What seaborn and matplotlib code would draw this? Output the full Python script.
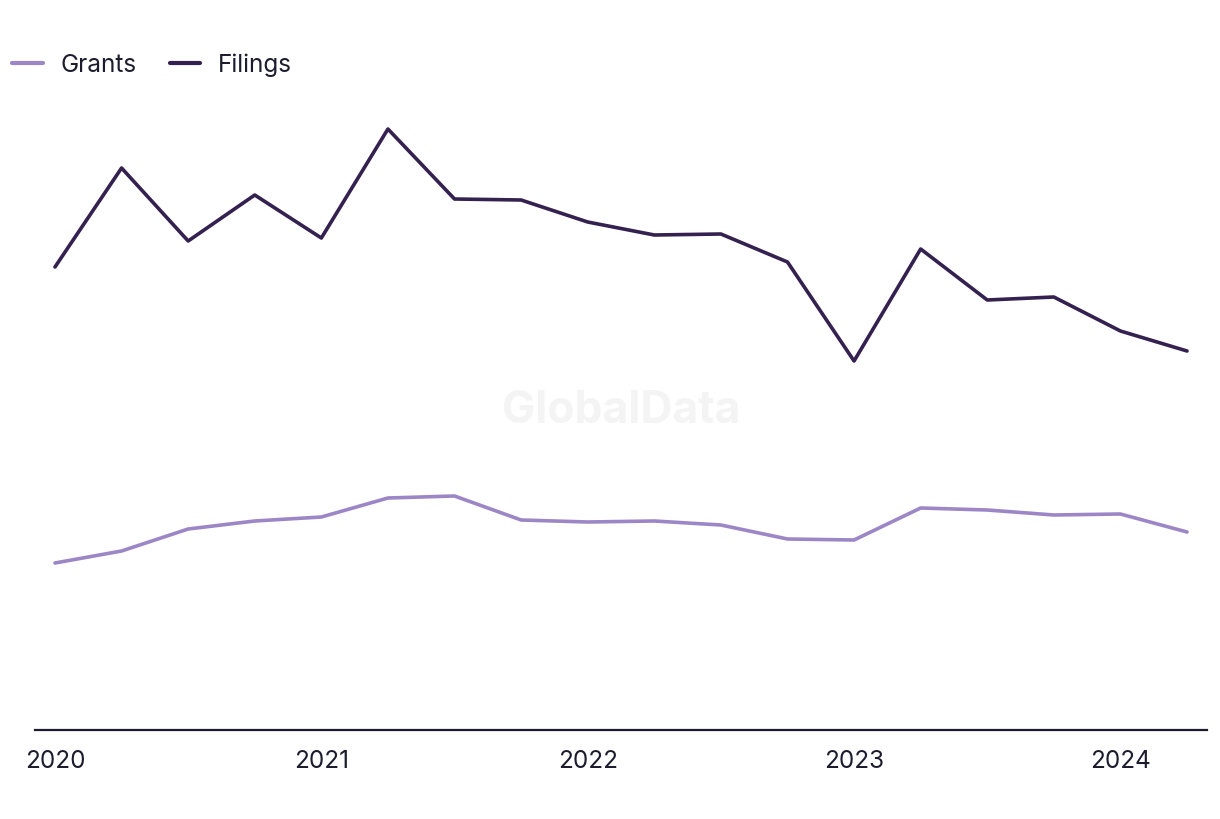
import matplotlib
matplotlib.use("Agg")
import matplotlib.pyplot as plt
import seaborn as sns
import pandas as pd
import numpy as np

quarters = ["Q1 2020", "Q2 2020", "Q3 2020", "Q4 2020",
            "Q1 2021", "Q2 2021", "Q3 2021", "Q4 2021",
            "Q1 2022", "Q2 2022", "Q3 2022", "Q4 2022",
            "Q1 2023", "Q2 2023", "Q3 2023", "Q4 2023",
            "Q1 2024", "Q2 2024"]
filings = [463, 562, 489, 535, 492, 601, 531, 530, 508, 495, 496, 468,
           369, 481, 430, 433, 399, 379]
grants = [167, 179, 201, 209, 213, 232, 234, 210, 208, 209, 205, 191,
          190, 222, 220, 215, 216, 198]
year_labels = ["2020", "2021", "2022", "2023", "2024"]

sns.set_theme(style="white")
plt.rcParams['font.family'] = ['Inter', 'DejaVu Sans']

idx = np.arange(len(quarters))
df = pd.DataFrame({
    "idx": np.concatenate([idx, idx]),
    "value": grants + filings,
    "series": ["Grants"] * len(quarters) + ["Filings"] * len(quarters),
})

fig = plt.figure(figsize=(12.2, 8.2), dpi=100)
ax = fig.add_axes([35 / 1220, 89 / 820, 1172 / 1220, 630 / 820])

palette = {"Grants": "#9d86c6", "Filings": "#35214f"}
sns.lineplot(data=df, x="idx", y="value", hue="series", palette=palette,
             linewidth=2.6, ax=ax, legend=False)

ax.set_xlim(-0.3, len(quarters) - 1 + 0.3)
ax.set_ylim(0, 630)
ax.set_xlabel("")
ax.set_ylabel("")
ax.set_yticks([])
ax.set_xticks([0, 4, 8, 12, 16])
ax.set_xticklabels(year_labels, fontsize=17.5, color="#1c1c2e")
ax.tick_params(axis="x", length=0, pad=14)
for s in ["top", "right", "left"]:
    ax.spines[s].set_visible(False)
ax.spines["bottom"].set_color("#1c1c2e")
ax.spines["bottom"].set_linewidth(1.6)

ax.text(0.5, (730 - 410) / 630, "GlobalData", transform=ax.transAxes,
        ha="center", va="center", fontsize=32, fontweight="bold",
        color="#f4f4f4", zorder=0)

from matplotlib.lines import Line2D
handles = [Line2D([0], [0], color=palette["Grants"], lw=3),
           Line2D([0], [0], color=palette["Filings"], lw=3)]
leg = fig.legend(handles, ["Grants", "Filings"], loc="upper left",
                 bbox_to_anchor=(-0.002, 0.952), ncol=2, frameon=False,
                 fontsize=17.5, handlelength=1.25, handletextpad=0.75,
                 columnspacing=1.35, borderaxespad=0.2)
for t in leg.get_texts():
    t.set_color("#1c1c2e")

fig.savefig("out.png", dpi=100)
